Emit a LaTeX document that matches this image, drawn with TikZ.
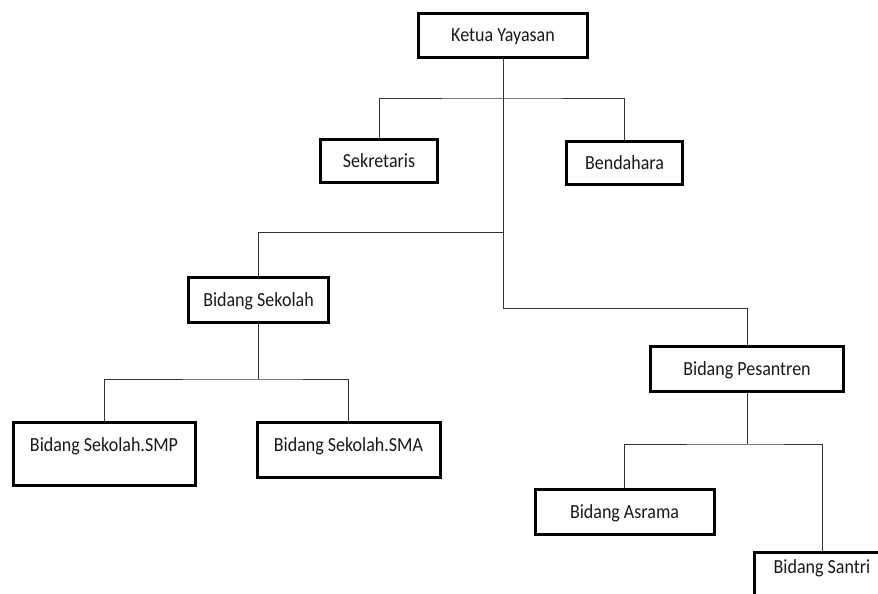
\documentclass[tikz,border=0pt]{standalone}
\usepackage{fontspec}
\setmainfont{Carlito}
\newfontfamily\lblfont[FakeStretch=0.9]{Carlito}
\begin{document}
\begin{tikzpicture}[x=1pt,y=-1pt,
  box/.style={draw=black,line width=3pt,fill=white,inner sep=0pt,font=\lblfont\fontsize{20}{22}\selectfont,text=black!90,text height=12pt,text depth=0pt},
  lbl/.style={font=\lblfont\fontsize{20}{22}\selectfont,text=black!90,text height=12pt,text depth=0pt,inner sep=0pt},
  conn/.style={draw=black!80,line width=1pt}]
\useasboundingbox (0,0) rectangle (878,594);
% boxes
\node[box,minimum width=169pt,minimum height=44pt] (ketua) at (503,35.5) {Ketua Yayasan};
\node[box,minimum width=117pt,minimum height=43pt] (sek) at (379,161) {Sekretaris};
\node[box,minimum width=116pt,minimum height=43pt] (ben) at (624.5,163) {Bendahara};
\node[box,minimum width=140pt,minimum height=45pt] (sekolah) at (258.5,300) {Bidang Sekolah};
\node[box,minimum width=182pt,minimum height=63pt,label={[lbl,yshift=9pt]center:Bidang Sekolah.SMP}] (smp) at (104,454) {};
\node[box,minimum width=183pt,minimum height=55pt,label={[lbl,yshift=5pt]center:Bidang Sekolah.SMA}] (sma) at (348.5,450) {};
\node[box,minimum width=193pt,minimum height=45pt] (pes) at (747,369) {Bidang Pesantren};
\node[box,minimum width=179pt,minimum height=45pt] (asr) at (624.5,512) {Bidang Asrama};
\node[box,minimum width=135pt,minimum height=66pt,label={[lbl,yshift=18pt]center:Bidang Santri}] (san) at (822,585.5) {};
% junctions
\coordinate (j1) at (503,98);
\coordinate (j2) at (503,232);
\coordinate (j3) at (503,308);
\coordinate (j4) at (258.5,379);
\coordinate (j5) at (747,444);
% connectors
\draw[conn] (ketua.south) -- (j3);
\draw[conn] (sek.north) |- (j1) -| (ben.north);
\draw[conn] (j2) -| (sekolah.north);
\draw[conn] (j3) -| (pes.north);
\draw[conn] (sekolah.south) -- (j4);
\draw[conn] (smp.north) |- (j4) -| (sma.north);
\draw[conn] (pes.south) -- (j5);
\draw[conn] (asr.north) |- (j5) -| (san.north);
\end{tikzpicture}
\end{document}
